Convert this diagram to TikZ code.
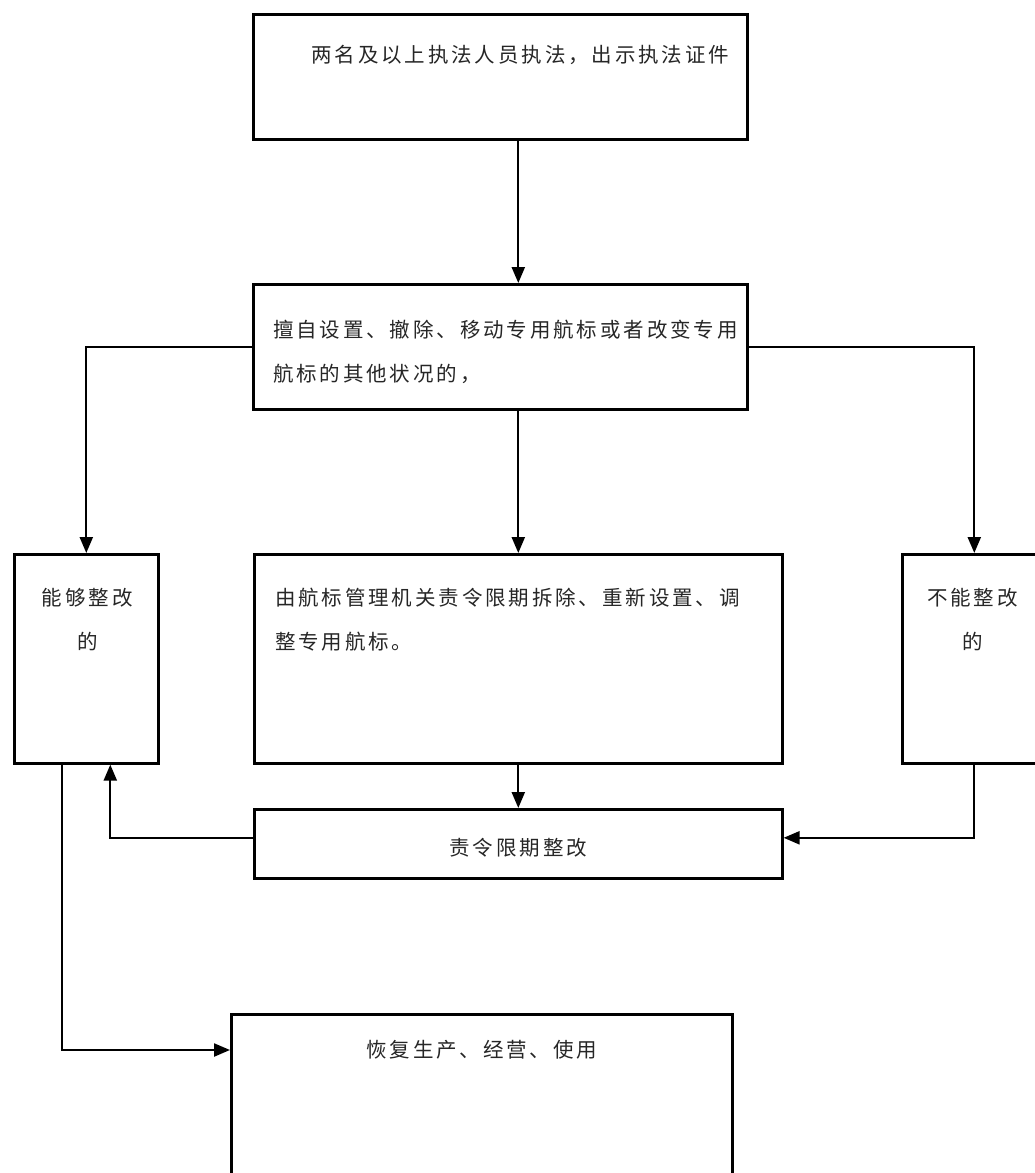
\documentclass[tikz,border=0pt]{standalone}
\usepackage{fontspec}
\newfontfamily\cjk[LetterSpace=14]{Noto Sans CJK SC}
\usetikzlibrary{arrows.meta,positioning}

\begin{document}
\begin{tikzpicture}[x=1pt, y=-1pt, line width=2.2pt,
        every node/.append style={font=\cjk\fontsize{20.5}{44}\selectfont},
        flow/.style={-{Triangle[length=16pt,width=13pt]}}]
      \tikzstyle{box} = [draw, rectangle, line width=2.6pt, inner sep=0pt, anchor=north west]
      \tikzstyle{word} = [inner sep=0pt, text=black!85]
      \useasboundingbox (0,0) rectangle (1035,1173);
      % boxes
      \node (show)   [box, minimum width=494pt, minimum height=125pt] at (252,13) {};
      \node (act)    [box, minimum width=494pt, minimum height=125pt] at (252,283) {};
      \node (can)    [box, minimum width=144pt, minimum height=209pt] at (13,553) {};
      \node (order)  [box, minimum width=528pt, minimum height=209pt] at (253,553) {};
      \node (cannot) [box, minimum width=144pt, minimum height=209pt] at (901,553) {};
      \node (fix)    [box, minimum width=528pt, minimum height=69pt] at (253,808) {};
      \node (resume) [box, minimum width=501pt, minimum height=200pt] at (230,1013) {};
      % texts
      \node (showT) [word] at ([xshift=20pt,yshift=-42pt]show.north) {两名及以上执法人员执法，出示执法证件};
      \node (actT) [word, anchor=west, align=left] at ([xshift=20pt,yshift=-5pt]act.west)
        {擅自设置、撤除、移动专用航标或者改变专用\\航标的其他状况的，};
      \node (canT) [word, align=center] at ([xshift=1pt,yshift=-67pt]can.north) {能够整改\\的};
      \node (orderT) [word, anchor=west, align=left] at ([xshift=21pt,yshift=-67pt]order.north west)
        {由航标管理机关责令限期拆除、重新设置、调\\整专用航标。};
      \node (cannotT) [word, align=center] at ([xshift=-2pt,yshift=-67pt]cannot.north) {不能整改\\的};
      \node (fixT) [word] at ([yshift=-4pt]fix) {责令限期整改};
      \node (resumeT) [word] at ([yshift=-37pt]resume.north) {恢复生产、经营、使用};
      % connectors
      \draw[flow] (show.south -| order.north) -- (act.north -| order.north);
      \draw[flow] (act.west) -| (can.north);
      \draw[flow] (act.east) -| (cannot.north);
      \draw[flow] (act.south -| order.north) -- (order.north);
      \draw[flow] (order.south) -- (fix.north);
      \draw[flow] (cannot.south) |- ([yshift=6pt]fix.east);
      \draw[flow] ([yshift=6pt]fix.west) -| ([xshift=24pt]can.south);
      \draw[flow] ([xshift=-24pt]can.south) |- ([yshift=-37pt]resume.north west);
    \end{tikzpicture}
\end{document}
